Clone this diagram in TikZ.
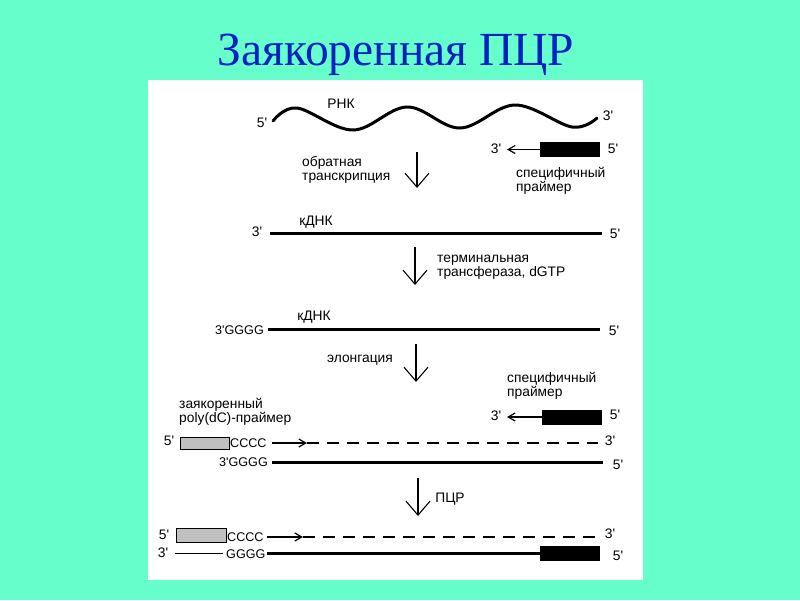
\documentclass[tikz,border=0pt]{standalone}
\usepackage{fontspec}
\setmainfont{Liberation Sans}
\newfontfamily\labfont{Liberation Sans}
\newfontfamily\titlefont{Liberation Serif}
\usetikzlibrary{arrows.meta}
\definecolor{sea}{RGB}{102,255,204}
\definecolor{titleblue}{RGB}{0,32,192}
\definecolor{anchorgrey}{RGB}{192,192,192}

\begin{document}
\begin{tikzpicture}[x=1pt,y=-1pt,
	lab/.style={font=\labfont\fontsize{13.8}{14.5}\selectfont, inner sep=0pt, align=left},
	seq/.style={lab, font=\labfont\fontsize{12.6}{14}\selectfont},
	strand/.style={line width=3pt},
	thinline/.style={line width=1.2pt},
	dashstrand/.style={line width=1.5pt, dash pattern=on 12pt off 8pt},
	downarrow/.style={line width=1.1pt, -{Straight Barb[length=14pt,width=24pt]}},
	primerarrow/.style={thinline, -{Straight Barb[length=7pt,width=8pt]}},
	primerbox/.style={fill=black, inner sep=0pt, minimum width=60pt, minimum height=15pt},
	anchorbox/.style={fill=anchorgrey, draw=black, line width=1pt, inner sep=0pt, minimum width=49pt, minimum height=12pt}]

	\useasboundingbox (0,0) rectangle (800,600);
	\fill[sea] (0,0) rectangle (800,600);
	\fill[white] (148,80) rectangle (643,580);

	\node[font=\titlefont\fontsize{47.5}{56}\selectfont, text=titleblue, anchor=base] (title) at (396,65) {Заякоренная ПЦР};

	% RNA and reverse transcription
	\draw[strand, line cap=round] plot[smooth, tension=0.6] coordinates {(273,121) (297,108) (353,130) (407,107) (460,128) (515,105) (572,127) (597,118)};
	\node[lab] (rna5) at (262,123) {5'};
	\node[lab] (rna3) at (608,116) {3'};
	\node[lab] (rna) at (341,104) {РНК};
	\node[primerbox] (sp1) at (570,149.5) {};
	\coordinate (sp1tip) at (507,149.5);
	\draw[primerarrow] (sp1.west) -- (sp1tip);
	\node[lab] (sp1l) at (496,149) {3'};
	\node[lab] (sp1r) at (613,149) {5'};
	\node[lab, anchor=west] (sp1txt) at (516,181) {специфичный\\праймер};
	\coordinate (d1a) at (417,152);
	\coordinate (d1b) at (417,188);
	\draw[downarrow] (d1a) -- (d1b);
	\node[lab, anchor=west] (rt) at (302,170) {обратная\\транскрипция};

	% cDNA
	\coordinate (k1a) at (270,233);
	\coordinate (k1b) at (602,233);
	\draw[strand] (k1a) -- (k1b);
	\node[lab] (k1l) at (257,232) {3'};
	\node[lab] (k1r) at (615,234) {5'};
	\node[lab] (k1) at (316,222) {кДНК};
	\coordinate (d2a) at (415,247);
	\coordinate (d2b) at (415,285);
	\draw[downarrow] (d2a) -- (d2b);
	\node[lab, anchor=west] (tt) at (437,267) {терминальная\\трансфераза, dGTP};

	% tailed cDNA
	\coordinate (k2a) at (268,329);
	\coordinate (k2b) at (600,329);
	\draw[strand] (k2a) -- (k2b);
	\node[seq, anchor=east] (k2l) at (264,330) {3'GGGG};
	\node[lab] (k2r) at (614,331) {5'};
	\node[lab] (k2) at (314,317) {кДНК};
	\coordinate (d3a) at (416,344);
	\coordinate (d3b) at (416,382);
	\draw[downarrow] (d3a) -- (d3b);
	\node[lab] (el) at (360,360) {элонгация};

	% elongation
	\node[primerbox] (sp2) at (572,417) {};
	\coordinate (sp2tip) at (507,417);
	\draw[primerarrow] (sp2.west) -- (sp2tip);
	\node[lab] (sp2l) at (496,416) {3'};
	\node[lab] (sp2r) at (615,415) {5'};
	\node[lab, anchor=west] (sp2txt) at (507,386) {специфичный\\праймер};
	\node[lab, anchor=west] (apr) at (179,412) {заякоренный\\poly(dC)-праймер};
	\node[anchorbox] (ap1) at (204.5,443) {};
	\node[lab] (ap1l) at (169,441) {5'};
	\node[seq, anchor=west] (ap1c) at (230,443) {CCCC};
	\coordinate (e1a) at (272,443);
	\coordinate (e1b) at (307,443);
	\coordinate (e1c) at (598,443);
	\draw[primerarrow] (e1a) -- (e1b);
	\draw[dashstrand] (e1b) -- (e1c);
	\node[lab] (e1r) at (610,441) {3'};
	\coordinate (e2a) at (272,462);
	\coordinate (e2b) at (603,462);
	\draw[strand] (e2a) -- (e2b);
	\node[seq, anchor=east] (e2l) at (268,462) {3'GGGG};
	\node[lab] (e2r) at (618,465) {5'};
	\coordinate (d4a) at (418,478);
	\coordinate (d4b) at (418,516);
	\draw[downarrow] (d4a) -- (d4b);
	\node[lab] (pcr) at (450,499) {ПЦР};

	% PCR product
	\node[anchorbox, minimum width=50pt, minimum height=14pt] (ap2) at (201,535) {};
	\node[lab] (ap2l) at (164,535) {5'};
	\node[seq, anchor=west] (ap2c) at (227,537) {CCCC};
	\coordinate (p1a) at (267,537);
	\coordinate (p1b) at (303,537);
	\coordinate (p1c) at (598,537);
	\draw[primerarrow] (p1a) -- (p1b);
	\draw[dashstrand] (p1b) -- (p1c);
	\node[lab] (p1r) at (610,534) {3'};
	\node[lab] (p2l) at (163,553) {3'};
	\coordinate (p2a) at (175,553.5);
	\coordinate (p2b) at (223,553.5);
	\draw[thinline] (p2a) -- (p2b);
	\node[seq, anchor=west] (p2g) at (226,554) {GGGG};
	\node[primerbox] (sp3) at (570,553.5) {};
	\coordinate (p2c) at (267,553.5);
	\draw[strand] (p2c) -- (sp3.west);
	\node[lab] (p2r) at (618,556) {5'};
\end{tikzpicture}
\end{document}
